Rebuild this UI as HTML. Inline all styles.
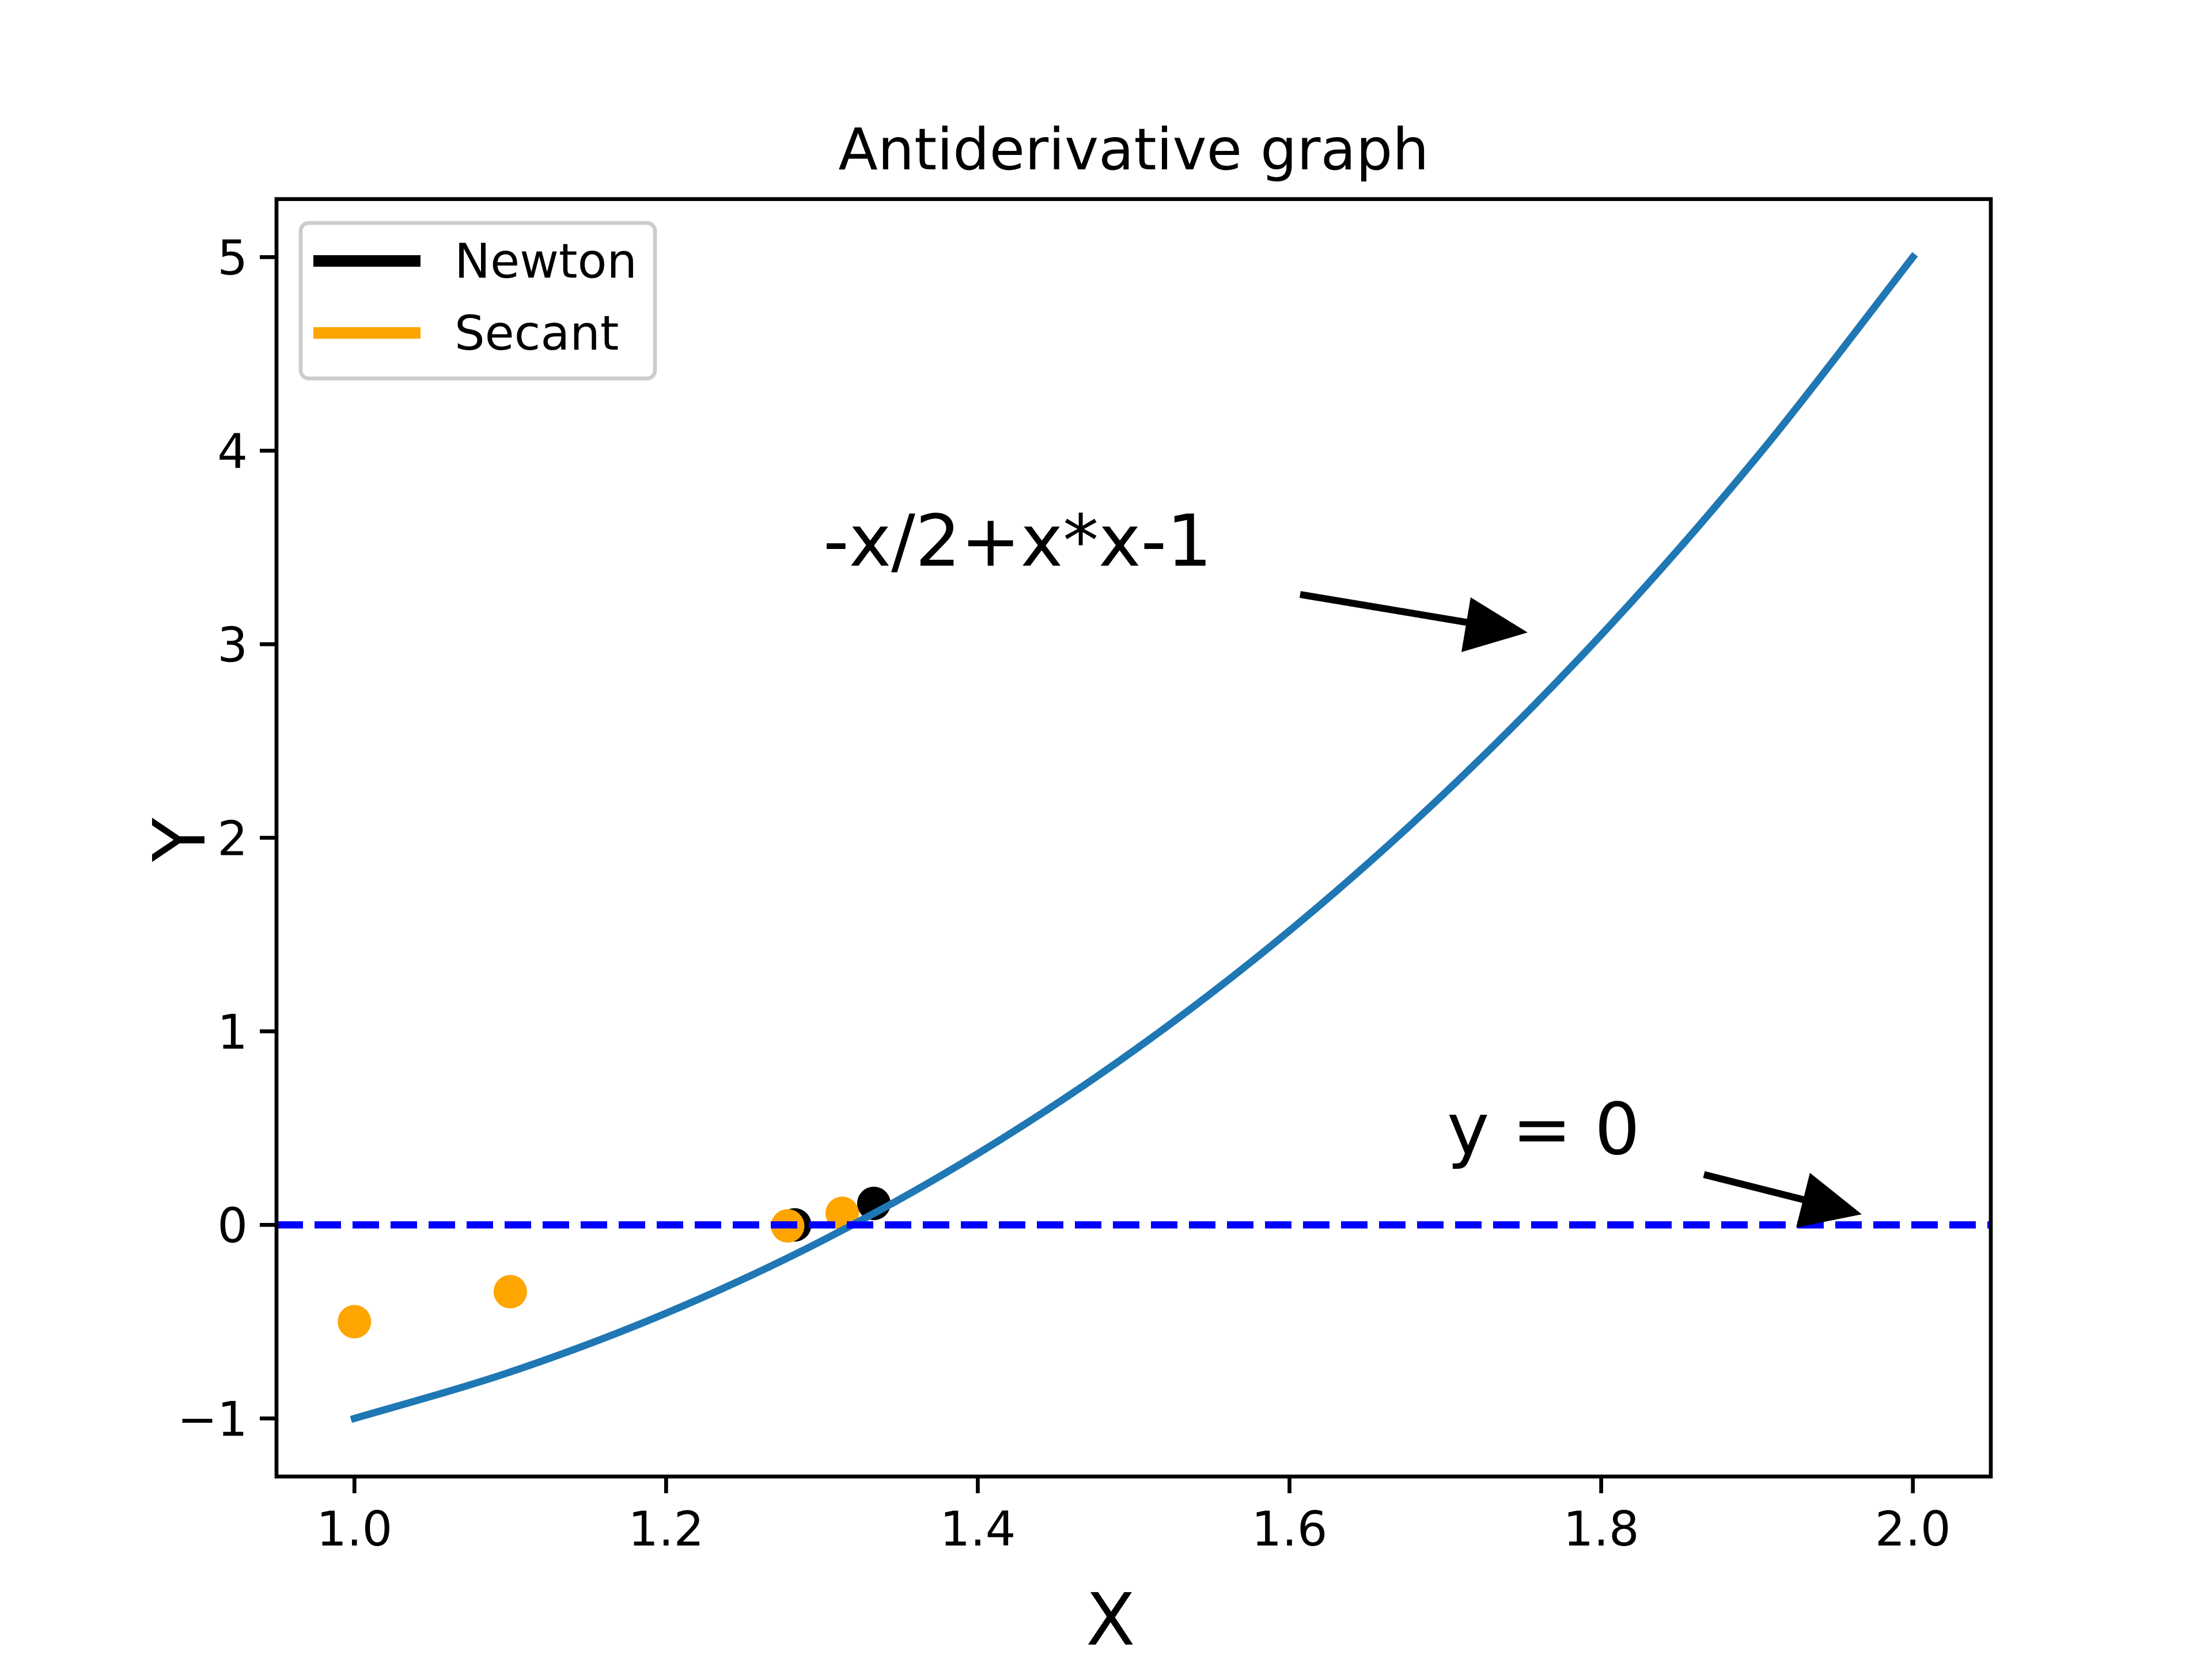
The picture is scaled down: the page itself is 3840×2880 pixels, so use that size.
<!DOCTYPE html>
<html><head><meta charset="utf-8"><style>
html,body{margin:0;padding:0;background:#fff}
svg{display:block}
text{font-family:"DejaVu Sans","Liberation Sans",sans-serif}
</style></head><body>
<svg id="chart" width="3840" height="2880" viewBox="0 0 3840 2880">
<rect width="3840" height="2880" fill="#fff"/>
<g id="marks"></g>
<g id="axes"></g>
</svg>
<script>
const curveX = [1.0,1.1,1.2,1.3,1.4,1.5,1.6,1.7,1.8,1.9,2.0];
const curveY = [-1.0,-0.76,-0.456,-0.082,0.368,0.9,1.52,2.234,3.048,3.968,5.0];
const secantX = [1.0,1.1,1.278,1.313];
const secantY = [-0.5,-0.345,-0.005,0.06];
const newtonX = [1.2825,1.3333];
const newtonY = [0.0,0.111];
const xTicks = [1.0,1.2,1.4,1.6,1.8,2.0];
const xTickLabels = ["1.0","1.2","1.4","1.6","1.8","2.0"];
const yTicks = [-1,0,1,2,3,4,5];
const yTickLabels = ["\u22121","0","1","2","3","4","5"];

const L=480,R=3456,T=345.6,B=2563.2;
const X0=0.95,X1=2.05,Y0=-1.3,Y1=5.3;
const sx=v=>L+(v-X0)/(X1-X0)*(R-L);
const sy=v=>B-(v-Y0)/(Y1-Y0)*(B-T);
const NS="http://www.w3.org/2000/svg";
function mk(tag,attrs,parent){const e=document.createElementNS(NS,tag);for(const k in attrs)e.setAttribute(k,attrs[k]);parent.appendChild(e);return e;}
const marks=document.getElementById('marks'), axes=document.getElementById('axes');

newtonX.forEach((x,i)=>{const c=mk('circle',{cx:sx(x),cy:sy(newtonY[i]),r:29,fill:'#000'},marks);

});
secantX.forEach((x,i)=>{const c=mk('circle',{cx:sx(x),cy:sy(secantY[i]),r:29,fill:'#ffa500'},marks);

});

const P=curveX.map((x,i)=>[sx(x),sy(curveY[i])]);
let d=`M${P[0][0]},${P[0][1]}`;
for(let i=0;i<P.length-1;i++){const p0=P[Math.max(i-1,0)],p1=P[i],p2=P[i+1],p3=P[Math.min(i+2,P.length-1)];
d+=` C${p1[0]+(p2[0]-p0[0])/6},${p1[1]+(p2[1]-p0[1])/6} ${p2[0]-(p3[0]-p1[0])/6},${p2[1]-(p3[1]-p1[1])/6} ${p2[0]},${p2[1]}`;}
const cv=mk('path',{d:d,fill:'none',stroke:'#1f77b4','stroke-width':12.5,'stroke-linecap':'square'},marks);


const zl=mk('line',{x1:L,x2:R,y1:sy(0),y2:sy(0),stroke:'#0000ff','stroke-width':12.5,'stroke-dasharray':'46 20'},marks);



const fr=mk('rect',{x:L,y:T,width:R-L,height:B-T,fill:'none',stroke:'#000','stroke-width':6.7},axes);


xTicks.forEach((v,i)=>{mk('line',{x1:sx(v),x2:sx(v),y1:B,y2:B+29,stroke:'#000','stroke-width':6.7},axes);
const t=mk('text',{x:sx(v),y:B+120,'font-size':83,'text-anchor':'middle'},axes);t.textContent=xTickLabels[i];

});
yTicks.forEach((v,i)=>{mk('line',{x1:L-29,x2:L,y1:sy(v),y2:sy(v),stroke:'#000','stroke-width':6.7},axes);
const t=mk('text',{x:L-50,y:sy(v)+30,'font-size':83,'text-anchor':'end'},axes);t.textContent=yTickLabels[i];

});
</script>
<script>
(function(){const s=document.getElementById('chart');s.insertAdjacentHTML('beforeend',`
<text x="1968" y="294" font-size="100" text-anchor="middle">Antiderivative graph</text>
<text x="1928" y="2855" font-size="125" text-anchor="middle">X</text>
<text transform="translate(355,1458) rotate(-90)" font-size="125" text-anchor="middle">Y</text>
<text x="1429" y="982" font-size="124">-x/2+x*x-1</text>
<g><line x1="2257" y1="1032" x2="2580" y2="1086" stroke="#000" stroke-width="12"/><polygon points="2652,1098 2553,1037 2537,1132" fill="#000"/></g>
<text x="2512" y="2003" font-size="124">y = 0</text>
<g><line x1="2958" y1="2039" x2="3160" y2="2090" stroke="#000" stroke-width="12"/><polygon points="3232,2108 3142,2036 3118,2131" fill="#000"/></g>
<g>
<rect x="522" y="387" width="615" height="270" rx="14" fill="#fff" fill-opacity="0.8" stroke="#ccc" stroke-width="6.7"/>
<line x1="544" x2="730" y1="453" y2="453" stroke="#000" stroke-width="20"/>
<text x="789" y="482" font-size="83">Newton</text>
<line x1="544" x2="730" y1="578" y2="578" stroke="#ffa500" stroke-width="20"/>
<text x="789" y="607" font-size="83">Secant</text>
</g>`);})();
</script>
</body></html>
